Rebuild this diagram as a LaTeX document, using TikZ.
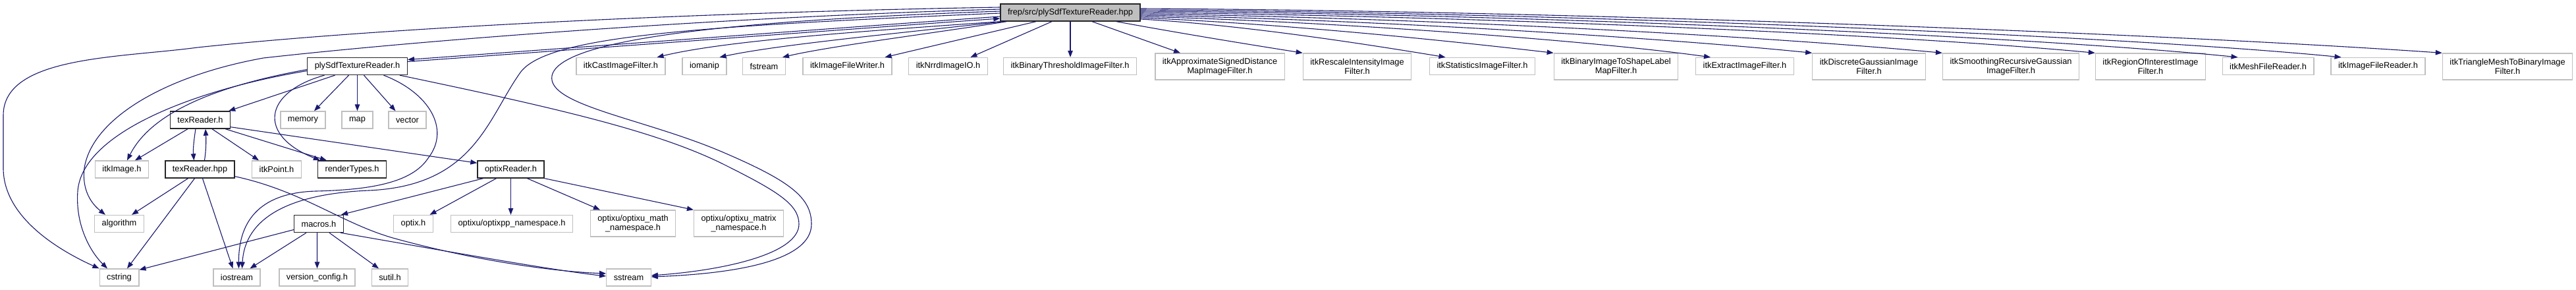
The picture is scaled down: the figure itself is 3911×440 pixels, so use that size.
\documentclass[tikz,border=0pt]{standalone}
\usepackage{fontspec}
\setmainfont{Liberation Sans}
\usepackage{tikz}
\usetikzlibrary{arrows.meta}
\usepackage{xcolor}
\definecolor{edgeblue}{HTML}{191970}
\definecolor{hdrgray}{HTML}{BFBFBF}
\newcommand{\hdrfont}{\fontsize{12.8bp}{13.5bp}\selectfont}
\tikzset{
  hdr/.style    ={draw=hdrgray, fill=white, line width=1.3bp, inner xsep=11bp,
                  inner ysep=2bp, minimum height=26bp, align=center, font=\hdrfont},
  inchdr/.style ={hdr, draw=black!85, line width=1.4bp},
  roothdr/.style={hdr, draw=black!85, line width=1.4bp, fill=hdrgray},
  twoline/.style={minimum height=40bp},
  inc/.style    ={draw=edgeblue, line width=1.1bp,
                  -{Triangle[length=10bp, width=7.5bp]}},
}

\begin{document}
\begin{tikzpicture}[x=1bp, y=-1bp]
  \path[use as bounding box, fill=white] (0,0) rectangle (3911,440);
  \node[roothdr] (root) at (1625,19) {frep/src/plySdfTextureReader.hpp};
  \node[inchdr] (plyh) at (542.5,100.5) {plySdfTextureReader.h};
  \node[hdr] (cast) at (942.5,100.5) {itkCastImageFilter.h};
  \node[hdr] (iomanip) at (1069.5,100.5) {iomanip};
  \node[hdr] (fstream) at (1160,100.5) {fstream};
  \node[hdr] (fwriter) at (1286.5,100.5) {itkImageFileWriter.h};
  \node[hdr] (nrrd) at (1439.5,100.5) {itkNrrdImageIO.h};
  \node[hdr] (bthresh) at (1624.5,100.5) {itkBinaryThresholdImageFilter.h};
  \node[hdr, twoline] (asdm) at (1852,101) {itkApproximateSignedDistance\\MapImageFilter.h};
  \node[hdr, twoline] (rescale) at (2060.5,101) {itkRescaleIntensityImage\\Filter.h};
  \node[hdr] (stats) at (2250.5,100.5) {itkStatisticsImageFilter.h};
  \node[hdr, twoline] (shapelbl) at (2453.5,101) {itkBinaryImageToShapeLabel\\MapFilter.h};
  \node[hdr] (extract) at (2649,100.5) {itkExtractImageFilter.h};
  \node[hdr, twoline] (dgauss) at (2837.5,101) {itkDiscreteGaussianImage\\Filter.h};
  \node[hdr, twoline] (smooth) at (3053,101) {itkSmoothingRecursiveGaussian\\ImageFilter.h};
  \node[hdr, twoline] (roi) at (3265,101) {itkRegionOfInterestImage\\Filter.h};
  \node[hdr] (meshrd) at (3443.5,100.5) {itkMeshFileReader.h};
  \node[hdr] (imgrd) at (3610.5,100.5) {itkImageFileReader.h};
  \node[hdr, twoline] (tri) at (3807,101) {itkTriangleMeshToBinaryImage\\Filter.h};
  \node[inchdr] (texh) at (304,182) {texReader.h};
  \node[hdr] (memory) at (460,182) {memory};
  \node[hdr] (map) at (542.5,182) {map};
  \node[hdr] (vector) at (618.5,182) {vector};
  \node[hdr] (itkimg) at (185,257) {itkImage.h};
  \node[inchdr] (texhpp) at (303.5,257) {texReader.hpp};
  \node[hdr] (itkpoint) at (420,257) {itkPoint.h};
  \node[inchdr] (render) at (534.5,257) {renderTypes.h};
  \node[inchdr] (optixrd) at (775.5,257) {optixReader.h};
  \node[hdr] (algorithm) at (181,339.5) {algorithm};
  \node[inchdr] (macros) at (484,339.5) {macros.h};
  \node[hdr] (optixh) at (627.5,339.5) {optix.h};
  \node[hdr] (optixpp) at (777,339.5) {optixu/optixpp\_namespace.h};
  \node[hdr, twoline] (optxmath) at (961,339) {optixu/optixu\_math\\\_namespace.h};
  \node[hdr, twoline] (optxmatrix) at (1121.5,339) {optixu/optixu\_matrix\\\_namespace.h};
  \node[hdr] (cstring) at (181,421) {cstring};
  \node[hdr] (iostream) at (359.5,421) {iostream};
  \node[hdr] (version) at (481.5,421) {version\_config.h};
  \node[hdr] (sutil) at (592,421) {sutil.h};
  \node[hdr] (sstream) at (954.5,421) {sstream};
  \draw[inc] ([yshift=-6bp]root.west) .. controls (1250,44) and (850,74) .. ([yshift=10bp]plyh.east);
  \draw[inc] ([yshift=7bp]plyh.east) .. controls (850,77) and (1250,47) .. ([yshift=-9bp]root.west);
  \draw[inc] ([yshift=8bp]root.west) .. controls (1100,18) and (600,40) .. (300,72)
    .. controls (180,88) and (5,85) .. (5,175) -- (5,255)
    .. controls (5,330) and (90,380) .. (cstring.north west);
  \draw[inc] ([yshift=5bp]root.west) .. controls (1100,26) and (650,60) .. (400,88)
    .. controls (250,115) and (140,180) .. (128,255)
    .. controls (124,290) and (140,310) .. ([xshift=-21bp]algorithm.north);
  \draw[inc] ([yshift=2bp]root.west) .. controls (1150,30) and (850,55) .. (838,115)
    .. controls (830,160) and (980,180) .. (1100,232)
    .. controls (1200,275) and (1232,300) .. (1232,340)
    .. controls (1232,395) and (1120,415) .. ([yshift=1bp]sstream.east);
  \draw[inc] ([yshift=-1bp]root.west) .. controls (1050,40) and (830,55) .. (790,110)
    .. controls (740,180) and (720,282) .. (560,289)
    .. controls (440,294) and (372,330) .. ([xshift=8bp]iostream.north);
  \draw[inc] ([xshift=1bp]root.south west) .. controls (1300,48) and (1100,62) .. ([xshift=55bp]cast.north);
  \draw[inc] ([xshift=5bp]root.south west) .. controls (1350,52) and (1180,68) .. ([xshift=23bp]iomanip.north);
  \draw[inc] ([xshift=10bp]root.south west) .. controls (1420,50) and (1260,70) .. ([xshift=28bp]fstream.north);
  \draw[inc] ([xshift=-52bp]root.south) -- ([xshift=57bp]fwriter.north);
  \draw[inc] ([xshift=-28bp]root.south) -- ([xshift=34bp]nrrd.north);
  \draw[inc] (root.south) -- (root.south |- bthresh.north);
  \draw[inc] ([xshift=33bp]root.south) -- ([xshift=-60bp]asdm.north);
  \draw[inc] ([xshift=70bp]root.south) .. controls (1800,52) and (1900,68) .. (rescale.north west);
  \draw[inc] ([yshift=-10bp]root.east) .. controls (1890,38) and (2080,68) .. ([xshift=-56bp]stats.north);
  \draw[inc] ([yshift=-8bp]root.east) .. controls (1950,36) and (2200,62) .. (shapelbl.north west);
  \draw[inc] ([yshift=-6bp]root.east) .. controls (2030,33) and (2420,62) .. ([xshift=-52bp]extract.north);
  \draw[inc] ([yshift=-4bp]root.east) .. controls (2090,30) and (2530,58) .. (dgauss.north west);
  \draw[inc] ([yshift=-2bp]root.east) .. controls (2160,27) and (2680,55) .. (smooth.north west);
  \draw[inc] (root.east) .. controls (2230,24) and (2880,52) .. (roi.north west);
  \draw[inc] ([yshift=2bp]root.east) .. controls (2310,21) and (3080,55) .. ([xshift=-46bp]meshrd.north);
  \draw[inc] ([yshift=4bp]root.east) .. controls (2370,19) and (3220,54) .. ([xshift=-56bp]imgrd.north);
  \draw[inc] ([yshift=6bp]root.east) .. controls (2420,17) and (3300,52) .. (tri.north west);
  \draw[inc] ([yshift=-5bp]plyh.west) .. controls (330,130) and (230,170) .. ([xshift=8bp]itkimg.north);
  \draw[inc] ([yshift=-7bp]plyh.west) .. controls (300,135) and (125,200) .. (118,290)
    .. controls (114,345) and (140,385) .. ([xshift=-18bp]cstring.north);
  \draw[inc] ([xshift=-34bp]plyh.south) -- ([xshift=-3bp]texh.north east);
  \draw[inc] ([xshift=-50bp]plyh.south) .. controls (400,140) and (390,205) .. ([xshift=4bp]render.north west);
  \draw[inc] ([xshift=-13bp]plyh.south) -- ([xshift=17bp]memory.north);
  \draw[inc] (plyh.south) -- (plyh.south |- map.north);
  \draw[inc] ([xshift=10bp]plyh.south) -- ([xshift=-18bp]vector.north);
  \draw[inc] ([xshift=40bp]plyh.south) .. controls (650,140) and (685,195) .. (650,240)
    .. controls (625,278) and (560,288) .. (480,290)
    .. controls (400,292) and (362,330) .. ([xshift=3bp]iostream.north);
  \draw[inc] ([xshift=-12bp]plyh.south east) .. controls (850,165) and (1000,200) .. (1100,250)
    .. controls (1180,290) and (1213,310) .. (1213,340)
    .. controls (1213,385) and (1100,410) .. ([yshift=3bp]sstream.east);
  \draw[inc] ([xshift=-19bp]texh.south) -- ([xshift=20bp]itkimg.north);
  \draw[inc] ([xshift=-7bp]texh.south) .. controls (294,215) and (293,228) .. ([xshift=-9bp]texhpp.north);
  \draw[inc] ([xshift=7bp]texhpp.north) .. controls (313,228) and (313,212) .. ([xshift=8bp]texh.south);
  \draw[inc] ([xshift=18bp]texh.south) -- ([xshift=-27bp]itkpoint.north);
  \draw[inc] ([xshift=-8bp]texh.south east) -- ([xshift=14bp]render.north west);
  \draw[inc] ([yshift=3bp]texh.south east) -- ([yshift=-4bp]optixrd.north west);
  \draw[inc] ([xshift=-18bp]texhpp.south) -- ([xshift=19bp]algorithm.north);
  \draw[inc] ([xshift=-8bp]texhpp.south) -- ([xshift=12bp]cstring.north);
  \draw[inc] ([xshift=4bp]texhpp.south) -- ([xshift=-6bp]iostream.north);
  \draw[inc] ([yshift=3bp]texhpp.south east) .. controls (460,290) and (520,340) .. (600,362)
    .. controls (720,395) and (840,412) .. ([yshift=6bp]sstream.west);
  \draw[inc] ([xshift=-42bp]optixrd.south) -- ([xshift=-4bp]macros.north east);
  \draw[inc] ([xshift=-22bp]optixrd.south) -- ([xshift=25bp]optixh.north);
  \draw[inc] (optixrd.south) -- (optixrd.south |- optixpp.north);
  \draw[inc] ([xshift=25bp]optixrd.south) -- ([xshift=-50bp]optxmath.north);
  \draw[inc] (optixrd.south east) -- (optxmatrix.north west);
  \draw[inc] ([yshift=-9bp]macros.west) -- ([yshift=-2bp]cstring.north east);
  \draw[inc] ([xshift=-19bp]macros.south) -- ([xshift=20bp]iostream.north);
  \draw[inc] ([xshift=-2.5bp]macros.south) -- (version.north);
  \draw[inc] ([xshift=16bp]macros.south) -- ([xshift=-17bp]sutil.north);
  \draw[inc] ([xshift=-5bp]macros.south east) .. controls (700,385) and (840,410) .. ([yshift=2bp]sstream.west);
\end{tikzpicture}
\end{document}
